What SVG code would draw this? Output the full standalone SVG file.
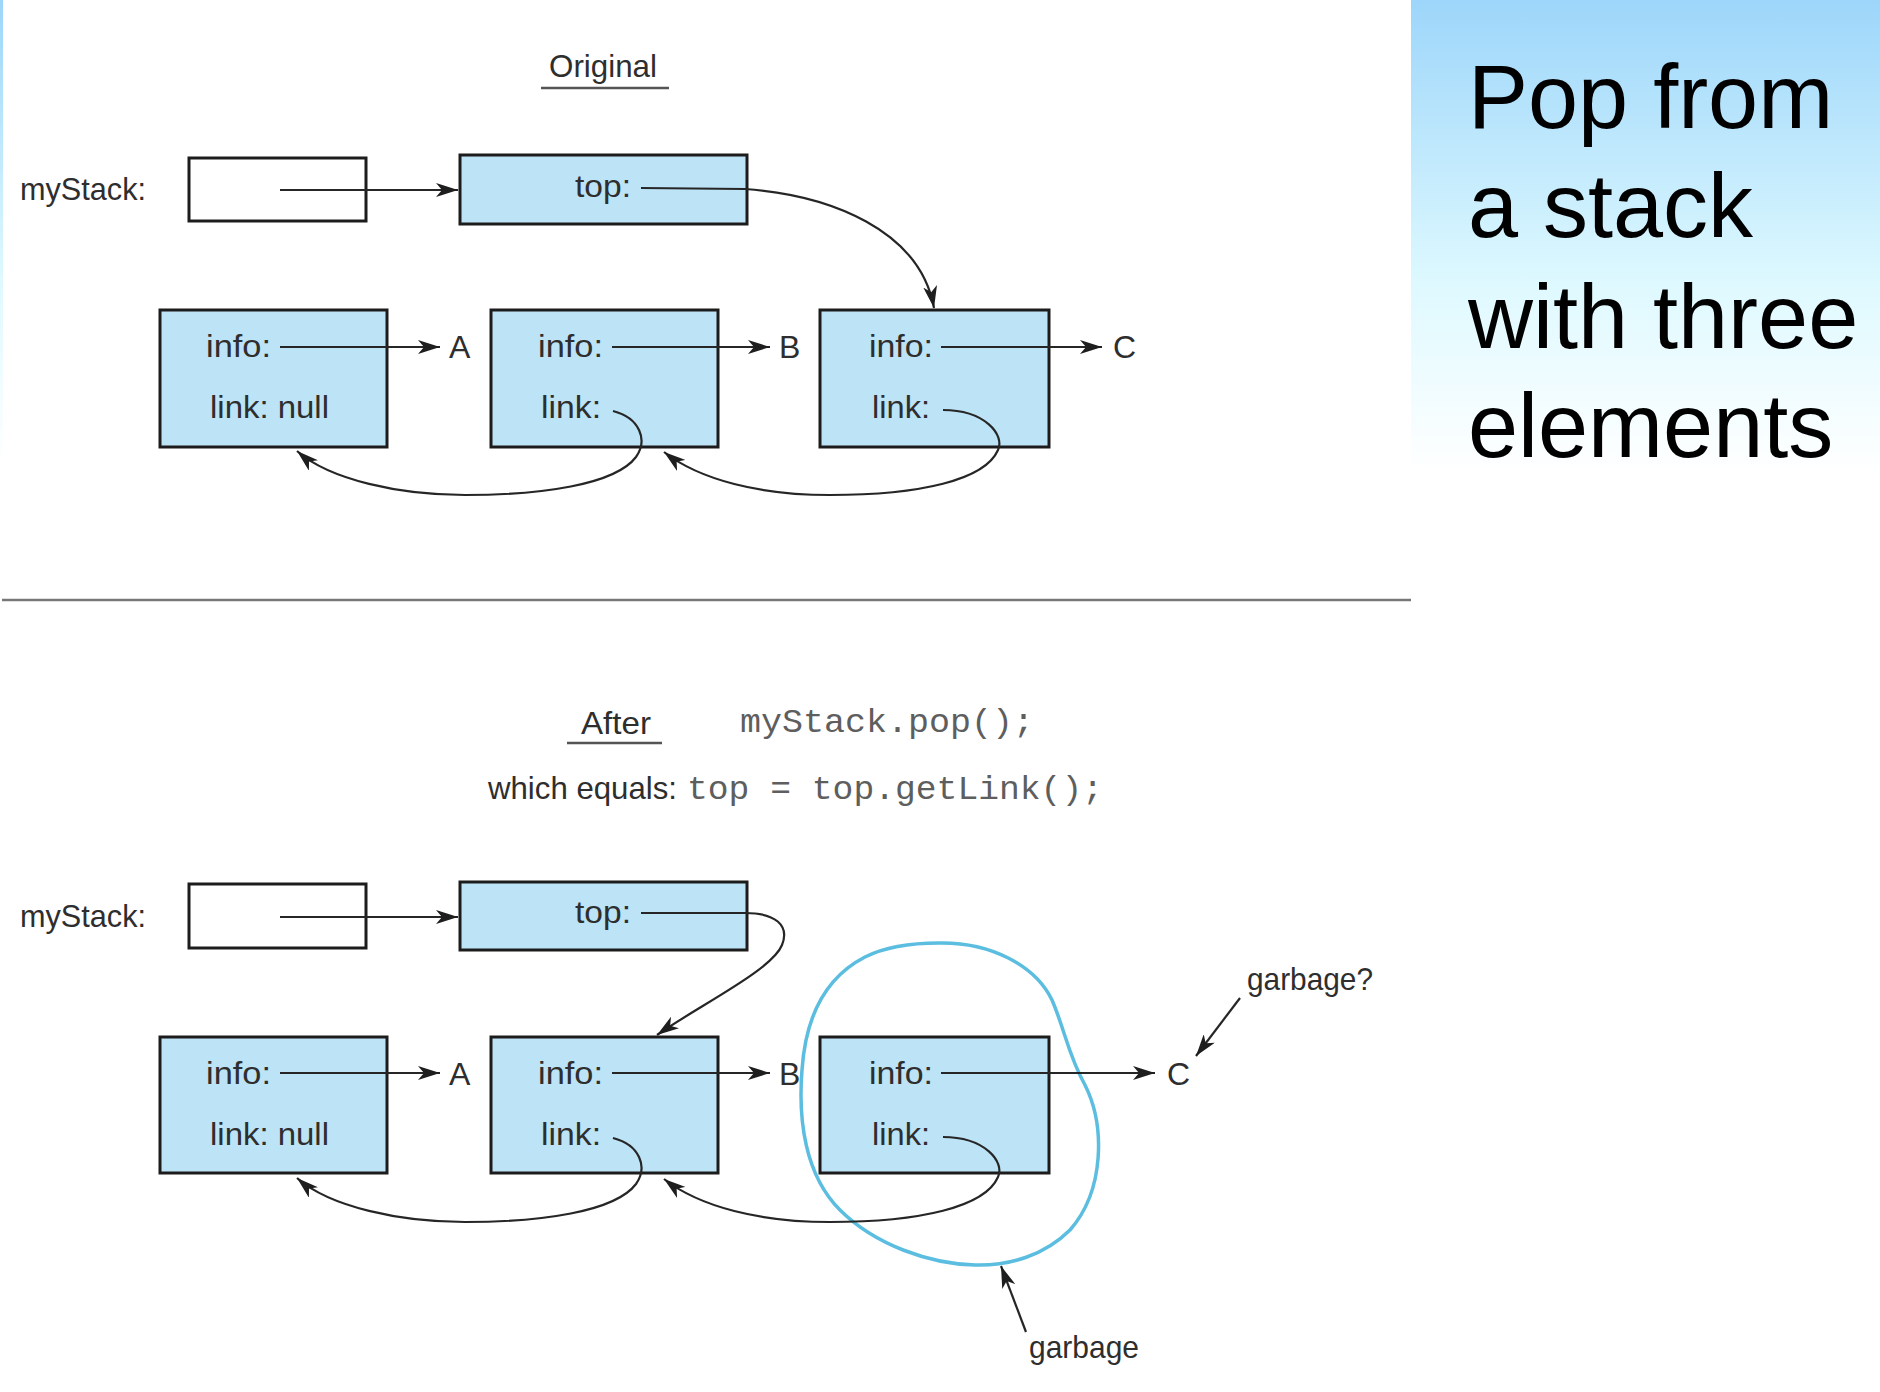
<svg xmlns="http://www.w3.org/2000/svg" width="1880" height="1392" viewBox="0 0 1880 1392">
<defs>
<linearGradient id="panel" x1="0" y1="0" x2="0" y2="1">
<stop offset="0" stop-color="#9dd6fa"/>
<stop offset="0.6" stop-color="#def9ff"/>
<stop offset="1" stop-color="#ffffff"/>
</linearGradient>
<marker id="ah" markerWidth="23" markerHeight="14" refX="22" refY="7" orient="auto" markerUnits="userSpaceOnUse">
<path d="M0,0 L22,7 L0,14 L6,7 Z" fill="#1e1e1e"/>
</marker>
<style>
.lbl{font-family:"Liberation Sans",Arial,sans-serif;font-size:32px;fill:#2e2e2e}
.mono{font-family:"Liberation Mono","Courier New",monospace;font-size:34px;fill:#5e5e5e}
.title{font-family:"Liberation Sans",Arial,sans-serif;font-size:90px;fill:#000}
.node{fill:#bde3f7;stroke:#1c1c1c;stroke-width:3}
.ref{fill:#ffffff;stroke:#1c1c1c;stroke-width:3}
.arr{fill:none;stroke:#262626;stroke-width:2.2;marker-end:url(#ah)}
.ul{stroke:#555;stroke-width:2.5}
</style>
</defs>
<rect width="1880" height="1392" fill="#ffffff"/>

<g id="panel-title">
<rect x="1411" y="0" width="469" height="473" fill="url(#panel)"/>
<rect x="0" y="0" width="3" height="465" fill="url(#panel)"/>
<text class="title" x="1468" y="128">Pop from</text>
<text class="title" x="1468" y="237">a stack</text>
<text class="title" x="1468" y="348">with three</text>
<text class="title" x="1468" y="457">elements</text>
</g>

<line x1="2" y1="600" x2="1411" y2="600" stroke="#777" stroke-width="2.5"/>

<g id="heading-original">
<text class="lbl" x="549" y="77" textLength="108" lengthAdjust="spacingAndGlyphs">Original</text>
<line class="ul" x1="541" y1="88" x2="669" y2="88"/>
</g>

<g id="mystack1">
<text class="lbl" x="20" y="200" textLength="126" lengthAdjust="spacingAndGlyphs">myStack:</text>
<rect class="ref" x="189" y="158" width="177" height="63"/>
</g>
<g id="top1">
<rect class="node" x="460" y="155" width="287" height="69"/>
<text class="lbl" x="575" y="197" textLength="56" lengthAdjust="spacingAndGlyphs">top:</text>
</g>
<g id="nodeA1">
<rect class="node" x="160" y="310" width="227" height="137"/>
<text class="lbl" x="206" y="357" textLength="65" lengthAdjust="spacingAndGlyphs">info:</text>
<text class="lbl" x="210" y="418" textLength="119" lengthAdjust="spacingAndGlyphs">link: null</text>
</g>
<g id="nodeB1">
<rect class="node" x="491" y="310" width="227" height="137"/>
<text class="lbl" x="538" y="357" textLength="65" lengthAdjust="spacingAndGlyphs">info:</text>
<text class="lbl" x="541" y="418" textLength="60" lengthAdjust="spacingAndGlyphs">link:</text>
</g>
<g id="nodeC1">
<rect class="node" x="820" y="310" width="229" height="137"/>
<text class="lbl" x="869" y="357" textLength="64" lengthAdjust="spacingAndGlyphs">info:</text>
<text class="lbl" x="872" y="418" textLength="58" lengthAdjust="spacingAndGlyphs">link:</text>
</g>
<g id="values1">
<text class="lbl" x="449" y="358">A</text>
<text class="lbl" x="779" y="358">B</text>
<text class="lbl" x="1113" y="358">C</text>
</g>

<g id="heading-after">
<text class="lbl" x="581" y="734" textLength="70" lengthAdjust="spacingAndGlyphs">After</text>
<line class="ul" x1="567" y1="743" x2="662" y2="743"/>
<text class="mono" x="740" y="732" textLength="294" lengthAdjust="spacingAndGlyphs">myStack.pop();</text>
<text class="lbl" x="488" y="799" textLength="189" lengthAdjust="spacingAndGlyphs">which equals:</text>
<text class="mono" x="687" y="799" textLength="416" lengthAdjust="spacingAndGlyphs">top = top.getLink();</text>
</g>

<g id="mystack2">
<text class="lbl" x="20" y="927" textLength="126" lengthAdjust="spacingAndGlyphs">myStack:</text>
<rect class="ref" x="189" y="884" width="177" height="64"/>
</g>
<g id="top2">
<rect class="node" x="460" y="882" width="287" height="68"/>
<text class="lbl" x="575" y="923" textLength="56" lengthAdjust="spacingAndGlyphs">top:</text>
</g>
<g id="nodeA2">
<rect class="node" x="160" y="1037" width="227" height="136"/>
<text class="lbl" x="206" y="1084" textLength="65" lengthAdjust="spacingAndGlyphs">info:</text>
<text class="lbl" x="210" y="1145" textLength="119" lengthAdjust="spacingAndGlyphs">link: null</text>
</g>
<g id="nodeB2">
<rect class="node" x="491" y="1037" width="227" height="136"/>
<text class="lbl" x="538" y="1084" textLength="65" lengthAdjust="spacingAndGlyphs">info:</text>
<text class="lbl" x="541" y="1145" textLength="60" lengthAdjust="spacingAndGlyphs">link:</text>
</g>
<g id="nodeC2">
<rect class="node" x="820" y="1037" width="229" height="136"/>
<text class="lbl" x="869" y="1084" textLength="64" lengthAdjust="spacingAndGlyphs">info:</text>
<text class="lbl" x="872" y="1145" textLength="58" lengthAdjust="spacingAndGlyphs">link:</text>
</g>
<g id="values2">
<text class="lbl" x="449" y="1085">A</text>
<text class="lbl" x="779" y="1085">B</text>
<text class="lbl" x="1167" y="1085">C</text>
</g>

<g id="garbage-blob">
<path d="M939,943 C990,942 1035,965 1052,1000 C1065,1030 1068,1055 1085,1085 C1105,1125 1105,1190 1070,1230 C1045,1255 1010,1266 975,1265 C930,1264 875,1245 840,1210 C805,1175 798,1120 802,1070 C806,1010 830,975 865,957 C885,947 910,943 939,943 Z" fill="none" stroke="#5bbde0" stroke-width="3.5"/>
</g>
<g id="garbage-labels">
<text class="lbl" x="1247" y="990" textLength="126" lengthAdjust="spacingAndGlyphs">garbage?</text>
<text class="lbl" x="1029" y="1358" textLength="110" lengthAdjust="spacingAndGlyphs">garbage</text>
</g>

<g id="connectors">
<line class="arr" x1="280" y1="190" x2="458" y2="190"/>
<path class="arr" d="M641,188 L745,189 C830,195 920,230 934,308"/>
<line class="arr" x1="280" y1="347" x2="440" y2="347"/>
<line class="arr" x1="612" y1="347" x2="770" y2="347"/>
<line class="arr" x1="941" y1="347" x2="1102" y2="347"/>
<path class="arr" d="M613,411 C640,418 648,440 636,457 C615,485 540,495 465,495 C400,495 330,480 297,451"/>
<path class="arr" d="M943,410 C985,410 1005,435 998,450 C985,480 920,495 830,495 C760,495 700,480 664,452"/>
<line class="arr" x1="280" y1="917" x2="458" y2="917"/>
<path class="arr" d="M641,913 L745,913 C775,913 790,925 782,945 C772,970 700,1005 657,1035"/>
<line class="arr" x1="280" y1="1073" x2="440" y2="1073"/>
<line class="arr" x1="612" y1="1073" x2="770" y2="1073"/>
<line class="arr" x1="941" y1="1073" x2="1155" y2="1073"/>
<path class="arr" d="M613,1138 C640,1145 648,1167 636,1184 C615,1212 540,1222 465,1222 C400,1222 330,1207 297,1178"/>
<path class="arr" d="M943,1137 C985,1137 1005,1162 998,1177 C985,1207 920,1222 830,1222 C760,1222 700,1207 664,1179"/>
<line class="arr" x1="1240" y1="998" x2="1196" y2="1056"/>
<line class="arr" x1="1026" y1="1332" x2="1001" y2="1266"/>
</g>
</svg>
